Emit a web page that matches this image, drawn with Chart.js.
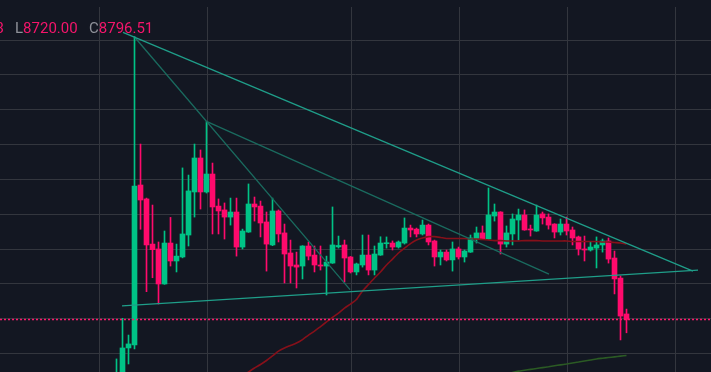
<!DOCTYPE html>
<html>
<head>
<meta charset="utf-8">
<script src="https://cdn.jsdelivr.net/npm/chart.js@4.4.1/dist/chart.umd.min.js"></script>
<style>
html, body { margin: 0; padding: 0; background: #131722; }
#wrap { position: relative; width: 711px; height: 372px; overflow: hidden; }
#chart { display: block; }
#legend { position: absolute; top: 20px; left: 0; width: 711px; height: 16px;
          font: 15px Roboto, sans-serif; line-height: 16px; white-space: nowrap; }
#legend span.grp { position: absolute; }
.lbl { color: #8e9199; }
.val { color: #f5156b; }
</style>
</head>
<body>
<div id="wrap">
  <canvas id="chart"></canvas>
  <div id="legend">
    <span class="grp" id="legH" style="right:707px"></span>
    <span class="grp" id="legL" style="left:15px"></span>
    <span class="grp" id="legC" style="left:89px"></span>
  </div>
</div>
<script>
// candles, one per bar (index 0 = first bar at the left)
var opens = [8440, 8460, 8633, 8650, 9568, 9488, 9229, 9201, 9000, 9235,
             9132, 9155, 9281, 9528, 9723, 9528, 9631, 9447, 9425, 9384,
             9413, 9212, 9298, 9459, 9447, 9356, 9224, 9419, 9293, 9178,
             9109, 9103, 9218, 9166, 9109, 9103, 9120, 9213, 9224, 9155,
             9069, 9109, 9166, 9080, 9166, 9231, 9235, 9212, 9235, 9321,
             9315, 9287, 9338, 9247, 9155, 9183, 9138, 9201, 9155, 9183,
             9258, 9293, 9258, 9390, 9413, 9229, 9287, 9367, 9396, 9315,
             9304, 9402, 9384, 9344, 9298, 9344, 9310, 9270, 9201, 9195,
             9206, 9224, 9247, 9149, 9034, 8828];
var highs = [8570, 8803, 8707, 10419, 9803, 9493, 9453, 9241, 9304, 9382,
             9229, 9666, 9625, 9803, 9769, 9931, 9694, 9488, 9465, 9493,
             9493, 9315, 9574, 9499, 9476, 9413, 9493, 9425, 9344, 9252,
             9183, 9220, 9241, 9218, 9218, 9160, 9442, 9275, 9252, 9158,
             9120, 9281, 9281, 9218, 9271, 9270, 9247, 9247, 9379, 9338,
             9321, 9367, 9344, 9252, 9195, 9195, 9241, 9212, 9195, 9281,
             9327, 9333, 9551, 9459, 9415, 9333, 9402, 9430, 9425, 9338,
             9453, 9413, 9402, 9346, 9373, 9384, 9327, 9275, 9275, 9241,
             9270, 9258, 9264, 9189, 9046, 8855.93];
var lows = [8420, 8440, 8541, 8627, 9314, 8956, 9036, 8885, 8998, 9103,
            9069, 9150, 9218, 9384, 9430, 9522, 9287, 9287, 9258, 9338,
            9160, 9201, 9296, 9361, 9270, 9074, 9220, 9241, 9006, 9006,
            8977, 9029, 9138, 9069, 9080, 8937, 9118, 9206, 9011, 9063,
            9052, 9097, 9052, 9052, 9164, 9206, 9195, 9206, 9229, 9270,
            9270, 9281, 9224, 9103, 9109, 9132, 9074, 9143, 9126, 9181,
            9235, 9256, 9256, 9361, 9172, 9212, 9224, 9252, 9308, 9275,
            9302, 9344, 9315, 9264, 9281, 9281, 9224, 9166, 9132, 9189,
            9092, 9183, 9120, 8943, 8679, 8720.00];
var closes = [8480, 8633, 8656, 9562, 9482, 9224, 9197, 9000, 9235, 9132,
              9160, 9287, 9534, 9723, 9528, 9631, 9442, 9419, 9384, 9413,
              9212, 9304, 9459, 9442, 9350, 9229, 9419, 9287, 9172, 9103,
              9097, 9218, 9160, 9109, 9103, 9126, 9224, 9221, 9149, 9069,
              9115, 9166, 9080, 9172, 9235, 9235, 9212, 9241, 9321, 9310,
              9287, 9338, 9241, 9155, 9183, 9138, 9201, 9155, 9189, 9264,
              9293, 9258, 9396, 9413, 9229, 9293, 9373, 9396, 9310, 9310,
              9396, 9379, 9338, 9298, 9344, 9304, 9264, 9201, 9195, 9212,
              9224, 9247, 9143, 9029, 8816, 8796.51];

// moving averages (first value belongs to bar maRedStart / maGreenStart)
var maRedStart = 21;
var maRed = [8472, 8495, 8518, 8538, 8561, 8587, 8615, 8633, 8647, 8661,
             8681, 8707, 8730, 8756, 8782, 8808, 8833, 8862, 8885, 8911,
             8960, 8997, 9034, 9069, 9109, 9143, 9178, 9206, 9232, 9252,
             9264, 9272, 9272, 9267, 9261, 9261, 9261, 9261, 9258, 9258,
             9255, 9252, 9249, 9249, 9247, 9247, 9247, 9249, 9249, 9249,
             9247, 9247, 9247, 9247, 9247, 9244, 9244, 9244, 9244, 9244,
             9241, 9241, 9238, 9235, 9229];
var maGreenStart = 65;
var maGreen = [8483, 8492, 8500, 8505, 8510, 8515, 8520, 8525, 8531, 8536,
               8541, 8547, 8552, 8558, 8564, 8570, 8574, 8578, 8582, 8586, 8590];

// drawn trend lines: [bar index, price]
var trendUpper = [[1.08, 10444], [96.08, 9074]];
var trendSteep = [[3, 10417], [38.92, 8968]];
var trendMiddle = [[15.08, 9932], [72.08, 9057]];
var trendLower = [[0.92, 8874], [96.92, 9080]];

var priceTicks = [8600, 8800, 9000, 9200, 9400, 9600, 9800, 10000, 10200, 10400];
var timeTicks = [-2.83, 15.17, 39.17, 57.17, 75.17, 93.17];
var xMin = -19.417, xMax = 99.083;
var yMin = 8495, yMax = 10589.4;

var upColor = '#00c386';
var downColor = '#ff0a6c';

var candleColors = closes.map(function (c, i) { return c >= opens[i] ? upColor : downColor; });
var wickData = lows.map(function (l, i) { return { x: i, y: [l, highs[i]] }; });
var bodyData = opens.map(function (o, i) { return { x: i, y: [o, closes[i]] }; });
var redData = maRed.map(function (v, i) { return { x: maRedStart + i, y: v }; });
var greenData = maGreen.map(function (v, i) { return { x: maGreenStart + i, y: v }; });
function pts(a) { return a.map(function (p) { return { x: p[0], y: p[1] }; }); }
var lastClose = closes[closes.length - 1];

function trendSet(arr, color) {
    return { type: 'line', data: pts(arr), borderColor: color, borderWidth: 1.3,
             pointRadius: 0, tension: 0, order: 0 };
}

var last = closes.length - 1;
document.getElementById('legH').innerHTML = '<span class="lbl">H</span><span class="val">' + highs[last].toFixed(2) + '</span>';
document.getElementById('legL').innerHTML = '<span class="lbl">L</span><span class="val">' + lows[last].toFixed(2) + '</span>';
document.getElementById('legC').innerHTML = '<span class="lbl">C</span><span class="val">' + closes[last].toFixed(2) + '</span>';

new Chart(document.getElementById('chart'), {
    type: 'bar',
    data: {
        datasets: [
            trendSet(trendUpper, '#1f9e89'),
            trendSet(trendLower, '#1f9e89'),
            trendSet(trendSteep, '#1a6b5f'),
            trendSet(trendMiddle, '#1a6b5f'),
            { type: 'line', data: [{ x: xMin, y: lastClose }, { x: xMax, y: lastClose }],
              borderColor: '#ff1a6e', borderWidth: 1.4, borderDash: [2, 2], pointRadius: 0, order: 0 },
            { type: 'line', data: redData, borderColor: '#86101a', borderWidth: 1.6,
              pointRadius: 0, tension: 0.2, order: 1 },
            { type: 'line', data: greenData, borderColor: '#2b5a24', borderWidth: 1.6,
              pointRadius: 0, tension: 0.2, order: 1 },
            { data: bodyData, backgroundColor: candleColors, barThickness: 5,
              minBarLength: 1, grouped: false, order: 2 },
            { data: wickData, backgroundColor: candleColors, barThickness: 1,
              minBarLength: 1, grouped: false, order: 3 }
        ]
    },
    options: {
        responsive: true,
        maintainAspectRatio: false,
        animation: false,
        events: [],
        layout: { padding: { top: 7, left: 0, right: 0, bottom: 0 } },
        plugins: { legend: { display: false }, tooltip: { enabled: false } },
        scales: {
            x: {
                type: 'linear', min: xMin, max: xMax, offset: false,
                afterBuildTicks: function (s) { s.ticks = timeTicks.map(function (v) { return { value: v }; }); },
                ticks: { display: false },
                grid: { color: '#33363e', drawTicks: false, offset: false },
                border: { display: false }
            },
            y: {
                type: 'linear', min: yMin, max: yMax,
                afterBuildTicks: function (s) { s.ticks = priceTicks.map(function (v) { return { value: v }; }); },
                ticks: { display: false },
                grid: { color: '#33363e', drawTicks: false },
                border: { display: false }
            }
        }
    }
});
</script>
</body>
</html>
